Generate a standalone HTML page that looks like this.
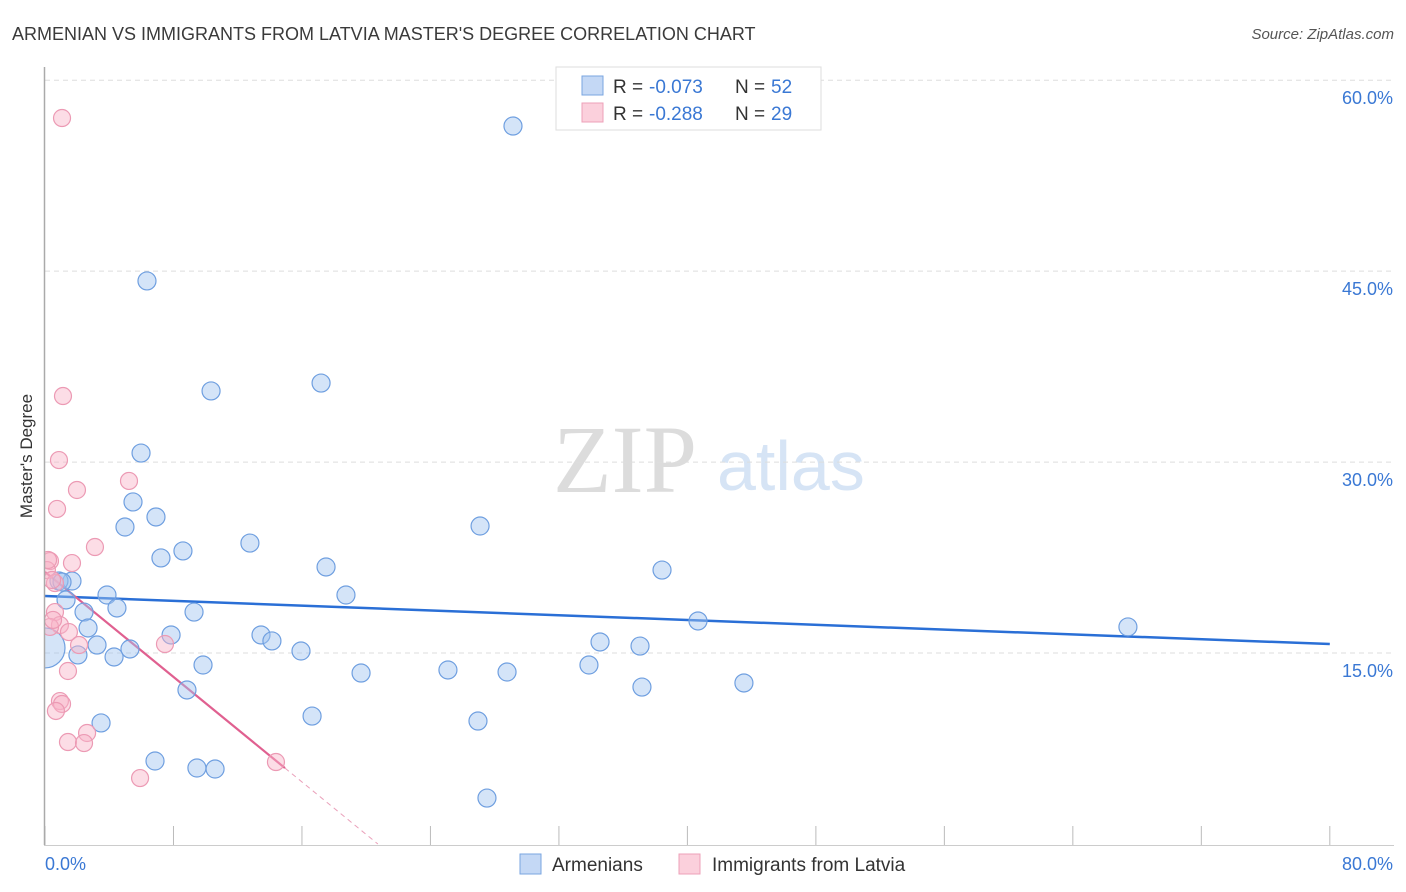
<!DOCTYPE html>
<html><head><meta charset="utf-8"><style>
body{margin:0;background:#fff;font-family:"Liberation Sans",sans-serif}
svg{display:block}
</style></head><body>
<svg id="c" width="1406" height="892" xmlns="http://www.w3.org/2000/svg">
<defs><clipPath id="plot"><rect x="45" y="60" width="1360" height="786"/></clipPath></defs>
<text x="12" y="40" font-size="18" fill="#3a3a3a">ARMENIAN VS IMMIGRANTS FROM LATVIA MASTER'S DEGREE CORRELATION CHART</text>
<text x="1394" y="39" font-size="15" fill="#555" font-style="italic" text-anchor="end">Source: ZipAtlas.com</text>
<g>
<text x="553" y="492" font-family="Liberation Serif,serif" font-size="96" fill="#dcdcdc">ZIP</text>
<text x="717" y="490" font-size="70" fill="#d6e4f5">atlas</text>
</g>
<text transform="translate(32,456) rotate(-90)" font-size="17" fill="#333" text-anchor="middle">Master's Degree</text>
<g id="grid"></g><g id="ticks"></g><g id="lines"></g><g id="pts" clip-path="url(#plot)"></g>
<line x1="44.5" y1="67" x2="44.5" y2="845" stroke="#aaa" stroke-width="1.5"/>
<line x1="44" y1="845.5" x2="1394" y2="845.5" stroke="#ccc"/>
<text x="45" y="870" font-size="18" fill="#3a78d4">0.0%</text>
<text x="1393" y="870" font-size="18" fill="#3a78d4" text-anchor="end">80.0%</text>
<g>
<rect x="556" y="67" width="265" height="63" fill="#fff" stroke="#ddd"/>
<rect x="582" y="76" width="21" height="19" fill="#c4d8f5" stroke="#7aa6e0"/>
<rect x="582" y="103" width="21" height="19" fill="#fbd0dc" stroke="#eea0b8"/>
<text x="613" y="93" font-size="19" fill="#333">R =</text>
<text x="649" y="93" font-size="19" fill="#3a78d4">-0.073</text>
<text x="735" y="93" font-size="19" fill="#333">N =</text>
<text x="771" y="93" font-size="19" fill="#3a78d4">52</text>
<text x="613" y="120" font-size="19" fill="#333">R =</text>
<text x="649" y="120" font-size="19" fill="#3a78d4">-0.288</text>
<text x="735" y="120" font-size="19" fill="#333">N =</text>
<text x="771" y="120" font-size="19" fill="#3a78d4">29</text>
</g>
<g><rect x="520" y="854" width="21" height="20" fill="#c4d8f5" stroke="#7aa6e0"/><text x="552" y="871" font-size="19" fill="#333">Armenians</text></g>
<g><rect x="679" y="854" width="21" height="20" fill="#fbd0dc" stroke="#eea0b8"/><text x="712" y="871" font-size="19" fill="#333">Immigrants from Latvia</text></g>
</svg>
<script>
const yTicks=[15,30,45,60];
const xTicks=[0,8,16,24,32,40,48,56,64,72,80];
const bluePx=[[513,126],[147,281],[211,391],[321,383],[141,453],[133,502],[156,517],[125,527],[480,526],[161,558],[183,551],[250,543],[72,581],[59,581],[326,567],[662,570],[346,595],[107,595],[66,600],[117,608],[84,612],[194,612],[698,621],[1128,627],[88,628],[171,635],[261,635],[272,641],[600,642],[640,646],[97,645],[130,649],[301,651],[78,655],[114,657],[203,665],[589,665],[448,670],[361,673],[507,672],[744,683],[187,690],[642,687],[312,716],[478,721],[101,723],[155,761],[197,768],[215,769],[487,798],[62,582]];
const pinkPx=[[62,118],[63,396],[59,460],[77,490],[129,481],[57,509],[95,547],[50,561],[72,563],[47,570],[55,583],[55,612],[60,625],[50,627],[69,632],[79,645],[165,644],[68,671],[60,701],[62,704],[56,711],[87,733],[68,742],[84,743],[140,778],[276,762],[48,560],[52,580],[53,620]];
const blueX=bluePx.map(p=>+((p[0]-45)/16.06).toFixed(2));
const blueY=bluePx.map(p=>+((844-p[1])/12.73).toFixed(2));
const pinkX=pinkPx.map(p=>+((p[0]-45)/16.06).toFixed(2));
const pinkY=pinkPx.map(p=>+((844-p[1])/12.73).toFixed(2));
const blueBig=[0,15.4];
const blueTrend=[19.48,15.71];
const pinkTrend=[21.37,-1.031];
const pinkTrendEnd=14.94;
const X=v=>45+v*16.06, Y=v=>844-v*12.73;
const NS="http://www.w3.org/2000/svg";
function mk(t,a,p){const e=document.createElementNS(NS,t);for(const k in a)e.setAttribute(k,a[k]);document.getElementById(p).appendChild(e);return e;}
yTicks.forEach(v=>{
 const l=mk('line',{x1:45,x2:1394,y1:Y(v),y2:Y(v),stroke:'#ddd','stroke-dasharray':'5,4'},'grid');
 
 
 const t=mk('text',{x:1393,y:Y(v)+24,'font-size':18,fill:'#3a78d4','text-anchor':'end'},'grid');
 t.textContent=v.toFixed(1)+'%';
 
 
});
xTicks.forEach(v=>{
 const l=mk('line',{x1:X(v),x2:X(v),y1:826,y2:845,stroke:'#bbb'},'ticks');
 
 
});
blueX.forEach((x,i)=>{
 const c=mk('circle',{cx:X(x),cy:Y(blueY[i]),r:9,fill:'rgba(160,195,240,0.45)',stroke:'#6f9fe0','stroke-width':1.2},'pts');
 
 
});
const bb=mk('circle',{cx:X(blueBig[0]),cy:Y(blueBig[1]),r:20,fill:'rgba(160,195,240,0.45)',stroke:'#6f9fe0','stroke-width':1.2},'pts');


pinkX.forEach((x,i)=>{
 const c=mk('circle',{cx:X(x),cy:Y(pinkY[i]),r:8.5,fill:'rgba(248,180,200,0.45)',stroke:'#ec9ab4','stroke-width':1.2},'pts');
 
 
});
const bl=mk('line',{x1:X(0),y1:Y(blueTrend[0]),x2:X(80),y2:Y(blueTrend[1]),stroke:'#2a6fd6','stroke-width':2.5},'lines');


const pl=mk('line',{x1:X(0),y1:Y(pinkTrend[0]),x2:X(pinkTrendEnd),y2:Y(pinkTrend[0]+pinkTrend[1]*pinkTrendEnd),stroke:'#e06090','stroke-width':2.2},'lines');


const zx=-pinkTrend[0]/pinkTrend[1];
const pd=mk('line',{x1:X(pinkTrendEnd),y1:Y(pinkTrend[0]+pinkTrend[1]*pinkTrendEnd),x2:X(zx),y2:Y(0),stroke:'#eaa0ba','stroke-width':1,'stroke-dasharray':'5,4'},'lines');


</script>
</body></html>
